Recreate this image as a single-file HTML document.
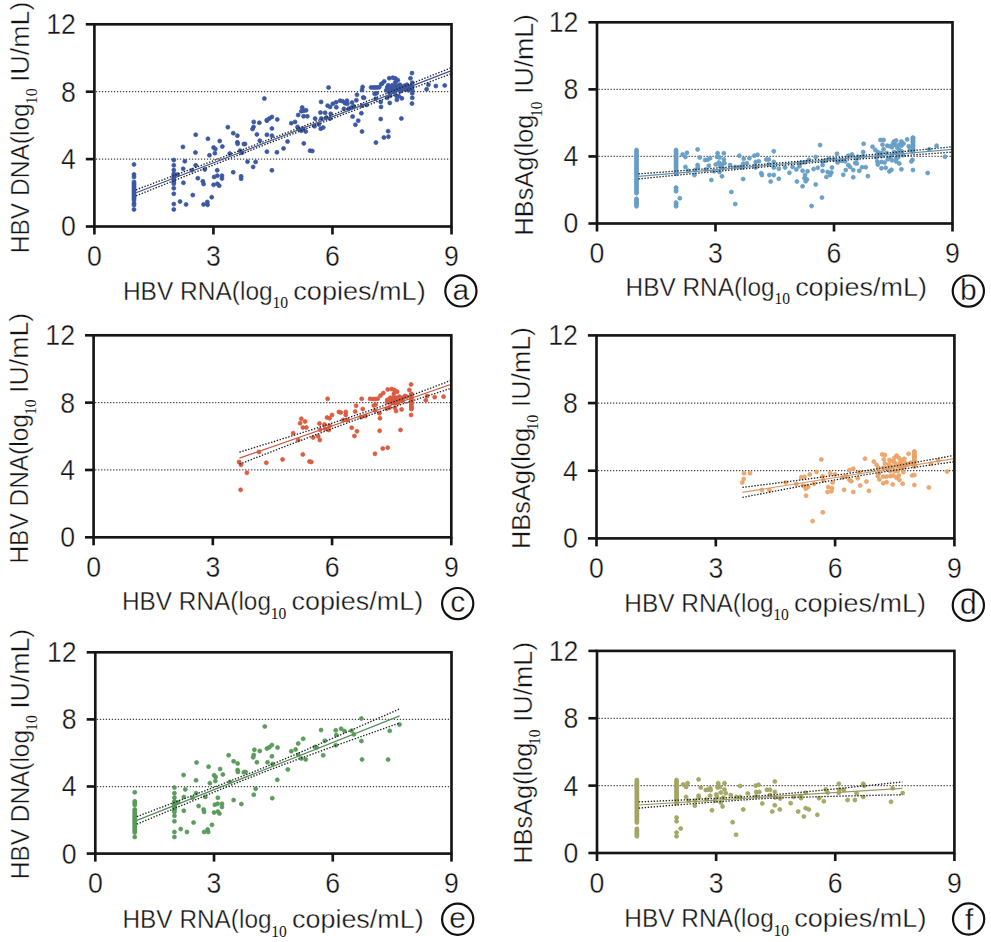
<!DOCTYPE html><html><head><meta charset="utf-8"><style>html,body{margin:0;padding:0;background:#fff;width:991px;height:942px;overflow:hidden}svg{display:block}text{font-family:"Liberation Sans",sans-serif;stroke:#fff;stroke-width:0.35px}</style></head><body>
<svg width="991" height="942" viewBox="0 0 991 942">
<rect width="991" height="942" fill="#fff"/>
<line x1="95.9" y1="159.1" x2="450.2" y2="159.1" stroke="#454545" stroke-width="1.25" stroke-dasharray="1.3 1.7"/>
<line x1="95.9" y1="91.7" x2="450.2" y2="91.7" stroke="#454545" stroke-width="1.25" stroke-dasharray="1.3 1.7"/>
<g fill="#3c5aa4" stroke="#39559d" stroke-width="0.7">
<circle cx="134.01" cy="164.42" r="2.0"/>
<circle cx="134.01" cy="174.43" r="2.0"/>
<circle cx="134.01" cy="176.93" r="2.0"/>
<circle cx="134.01" cy="203.21" r="2.0"/>
<circle cx="134.01" cy="205.09" r="2.0"/>
<circle cx="134.01" cy="209.47" r="2.0"/>
<circle cx="173.8" cy="160.04" r="2.0"/>
<circle cx="173.8" cy="165.3" r="2.0"/>
<circle cx="173.8" cy="170.05" r="2.0"/>
<circle cx="173.8" cy="188.19" r="2.0"/>
<circle cx="173.8" cy="193.82" r="2.0"/>
<circle cx="173.8" cy="204.08" r="2.0"/>
<circle cx="173.8" cy="209.47" r="2.0"/>
<circle cx="182.94" cy="146.9" r="2.0"/>
<circle cx="195.7" cy="134.76" r="2.0"/>
<circle cx="195.45" cy="152.53" r="2.0"/>
<circle cx="184.82" cy="161.29" r="2.0"/>
<circle cx="183.19" cy="168.8" r="2.0"/>
<circle cx="195.7" cy="165.3" r="2.0"/>
<circle cx="191.95" cy="170.3" r="2.0"/>
<circle cx="177.56" cy="174.43" r="2.0"/>
<circle cx="204.84" cy="169.42" r="2.0"/>
<circle cx="197.83" cy="178.18" r="2.0"/>
<circle cx="183.44" cy="182.81" r="2.0"/>
<circle cx="202.83" cy="181.31" r="2.0"/>
<circle cx="203.58" cy="184.06" r="2.0"/>
<circle cx="192.82" cy="195.08" r="2.0"/>
<circle cx="180.06" cy="201.58" r="2.0"/>
<circle cx="186.07" cy="204.46" r="2.0"/>
<circle cx="203.58" cy="204.46" r="2.0"/>
<circle cx="207.34" cy="201.96" r="2.0"/>
<circle cx="207.59" cy="204.84" r="2.0"/>
<circle cx="211.72" cy="197.2" r="2.0"/>
<circle cx="207.96" cy="138.77" r="2.0"/>
<circle cx="219.73" cy="141.02" r="2.0"/>
<circle cx="213.59" cy="147.53" r="2.0"/>
<circle cx="215.35" cy="149.03" r="2.0"/>
<circle cx="222.35" cy="146.53" r="2.0"/>
<circle cx="214.85" cy="153.16" r="2.0"/>
<circle cx="209.47" cy="155.29" r="2.0"/>
<circle cx="227.86" cy="127.13" r="2.0"/>
<circle cx="233.24" cy="133.14" r="2.0"/>
<circle cx="237.37" cy="135.64" r="2.0"/>
<circle cx="237.37" cy="142.27" r="2.0"/>
<circle cx="237.62" cy="143.77" r="2.0"/>
<circle cx="243.87" cy="144.02" r="2.0"/>
<circle cx="240.12" cy="150.66" r="2.0"/>
<circle cx="242" cy="152.78" r="2.0"/>
<circle cx="229.74" cy="153.53" r="2.0"/>
<circle cx="217.22" cy="170.3" r="2.0"/>
<circle cx="233.24" cy="172.18" r="2.0"/>
<circle cx="214.09" cy="176.93" r="2.0"/>
<circle cx="217.35" cy="175.68" r="2.0"/>
<circle cx="221.98" cy="175.68" r="2.0"/>
<circle cx="221.98" cy="178.56" r="2.0"/>
<circle cx="213.59" cy="184.82" r="2.0"/>
<circle cx="217.35" cy="183.81" r="2.0"/>
<circle cx="219.23" cy="185.69" r="2.0"/>
<circle cx="241.12" cy="176.31" r="2.0"/>
<circle cx="241.12" cy="178.81" r="2.0"/>
<circle cx="134.01" cy="181.94" r="2.0"/>
<circle cx="134.01" cy="183.45" r="2.0"/>
<circle cx="134.01" cy="184.96" r="2.0"/>
<circle cx="134.01" cy="186.47" r="2.0"/>
<circle cx="134.01" cy="187.99" r="2.0"/>
<circle cx="134.01" cy="189.5" r="2.0"/>
<circle cx="134.01" cy="191.01" r="2.0"/>
<circle cx="134.01" cy="192.52" r="2.0"/>
<circle cx="134.01" cy="194.03" r="2.0"/>
<circle cx="134.01" cy="195.54" r="2.0"/>
<circle cx="134.01" cy="197.06" r="2.0"/>
<circle cx="134.01" cy="198.57" r="2.0"/>
<circle cx="134.01" cy="200.08" r="2.0"/>
<circle cx="173.8" cy="173.8" r="2.0"/>
<circle cx="173.8" cy="175.47" r="2.0"/>
<circle cx="173.8" cy="177.14" r="2.0"/>
<circle cx="173.8" cy="178.81" r="2.0"/>
<circle cx="173.8" cy="180.48" r="2.0"/>
<circle cx="173.8" cy="182.15" r="2.0"/>
<circle cx="173.8" cy="183.81" r="2.0"/>
<circle cx="253.76" cy="121.88" r="2.0"/>
<circle cx="259.39" cy="122.75" r="2.0"/>
<circle cx="253.51" cy="126.88" r="2.0"/>
<circle cx="252.51" cy="129.01" r="2.0"/>
<circle cx="256.89" cy="134.39" r="2.0"/>
<circle cx="266.9" cy="134.76" r="2.0"/>
<circle cx="271.91" cy="128.51" r="2.0"/>
<circle cx="271.91" cy="135.64" r="2.0"/>
<circle cx="266.9" cy="120.63" r="2.0"/>
<circle cx="259.77" cy="140.65" r="2.0"/>
<circle cx="245.01" cy="144.02" r="2.0"/>
<circle cx="266.9" cy="151.66" r="2.0"/>
<circle cx="276.91" cy="152.28" r="2.0"/>
<circle cx="283.54" cy="148.4" r="2.0"/>
<circle cx="287.55" cy="141.52" r="2.0"/>
<circle cx="291.3" cy="123.13" r="2.0"/>
<circle cx="295.06" cy="121.88" r="2.0"/>
<circle cx="297.56" cy="126.88" r="2.0"/>
<circle cx="299.43" cy="129.38" r="2.0"/>
<circle cx="301.31" cy="130.64" r="2.0"/>
<circle cx="303.19" cy="128.76" r="2.0"/>
<circle cx="305.69" cy="131.51" r="2.0"/>
<circle cx="303.81" cy="143.4" r="2.0"/>
<circle cx="310.07" cy="150.66" r="2.0"/>
<circle cx="312.32" cy="151.03" r="2.0"/>
<circle cx="314.45" cy="126.26" r="2.0"/>
<circle cx="318.83" cy="124.38" r="2.0"/>
<circle cx="320.71" cy="128.76" r="2.0"/>
<circle cx="323.21" cy="127.51" r="2.0"/>
<circle cx="355.37" cy="124.75" r="2.0"/>
<circle cx="358.24" cy="120.63" r="2.0"/>
<circle cx="362" cy="131.51" r="2.0"/>
<circle cx="247.51" cy="161.67" r="2.0"/>
<circle cx="255.64" cy="161.92" r="2.0"/>
<circle cx="253.14" cy="166.92" r="2.0"/>
<circle cx="271.91" cy="170.3" r="2.0"/>
<circle cx="264.4" cy="98.54" r="2.0"/>
<circle cx="328.59" cy="87.53" r="2.0"/>
<circle cx="266.9" cy="120.06" r="2.0"/>
<circle cx="269.4" cy="118.56" r="2.0"/>
<circle cx="271.91" cy="116.93" r="2.0"/>
<circle cx="277.29" cy="119.43" r="2.0"/>
<circle cx="298.18" cy="115.06" r="2.0"/>
<circle cx="302.19" cy="107.55" r="2.0"/>
<circle cx="301.31" cy="111.3" r="2.0"/>
<circle cx="303.81" cy="110.68" r="2.0"/>
<circle cx="306.07" cy="110.3" r="2.0"/>
<circle cx="303.56" cy="116.31" r="2.0"/>
<circle cx="307.32" cy="116.31" r="2.0"/>
<circle cx="315.08" cy="118.56" r="2.0"/>
<circle cx="321.08" cy="101.92" r="2.0"/>
<circle cx="320.46" cy="112.55" r="2.0"/>
<circle cx="325.09" cy="112.8" r="2.0"/>
<circle cx="321.33" cy="118.56" r="2.0"/>
<circle cx="326.34" cy="117.56" r="2.0"/>
<circle cx="330.09" cy="118.56" r="2.0"/>
<circle cx="330.72" cy="113.8" r="2.0"/>
<circle cx="327.59" cy="105.67" r="2.0"/>
<circle cx="330.09" cy="106.92" r="2.0"/>
<circle cx="332.84" cy="103.79" r="2.0"/>
<circle cx="336.1" cy="102.29" r="2.0"/>
<circle cx="336.35" cy="107.3" r="2.0"/>
<circle cx="340.1" cy="100.67" r="2.0"/>
<circle cx="342.6" cy="101.29" r="2.0"/>
<circle cx="345.11" cy="103.17" r="2.0"/>
<circle cx="346.98" cy="100.67" r="2.0"/>
<circle cx="347.36" cy="103.79" r="2.0"/>
<circle cx="351.99" cy="102.54" r="2.0"/>
<circle cx="343.85" cy="108.8" r="2.0"/>
<circle cx="348.61" cy="108.8" r="2.0"/>
<circle cx="351.36" cy="107.55" r="2.0"/>
<circle cx="353.86" cy="106.3" r="2.0"/>
<circle cx="356.37" cy="100.29" r="2.0"/>
<circle cx="356.99" cy="94.79" r="2.0"/>
<circle cx="352.61" cy="116.56" r="2.0"/>
<circle cx="362" cy="90.03" r="2.0"/>
<circle cx="362.62" cy="86.9" r="2.0"/>
<circle cx="363.25" cy="97.54" r="2.0"/>
<circle cx="362" cy="105.67" r="2.0"/>
<circle cx="361.37" cy="113.18" r="2.0"/>
<circle cx="364.04" cy="97.84" r="2.0"/>
<circle cx="366.56" cy="104.9" r="2.0"/>
<circle cx="371.1" cy="87.45" r="2.0"/>
<circle cx="373.12" cy="87.45" r="2.0"/>
<circle cx="375.14" cy="87.45" r="2.0"/>
<circle cx="377.15" cy="87.45" r="2.0"/>
<circle cx="379.17" cy="87.25" r="2.0"/>
<circle cx="381.19" cy="84.22" r="2.0"/>
<circle cx="384.22" cy="81.39" r="2.0"/>
<circle cx="382.2" cy="83.41" r="2.0"/>
<circle cx="374.63" cy="93.8" r="2.0"/>
<circle cx="376.65" cy="93.3" r="2.0"/>
<circle cx="375.64" cy="98.85" r="2.0"/>
<circle cx="380.69" cy="101.88" r="2.0"/>
<circle cx="380.99" cy="106.92" r="2.0"/>
<circle cx="380.69" cy="119.03" r="2.0"/>
<circle cx="389.77" cy="102.89" r="2.0"/>
<circle cx="387.25" cy="97.84" r="2.0"/>
<circle cx="389.26" cy="78.16" r="2.0"/>
<circle cx="392.8" cy="77.66" r="2.0"/>
<circle cx="395.32" cy="78.37" r="2.0"/>
<circle cx="397.84" cy="80.18" r="2.0"/>
<circle cx="395.32" cy="82.2" r="2.0"/>
<circle cx="387.25" cy="87.25" r="2.0"/>
<circle cx="389.26" cy="88.76" r="2.0"/>
<circle cx="391.28" cy="87.75" r="2.0"/>
<circle cx="393.3" cy="86.74" r="2.0"/>
<circle cx="395.32" cy="86.24" r="2.0"/>
<circle cx="397.34" cy="85.73" r="2.0"/>
<circle cx="399.86" cy="84.72" r="2.0"/>
<circle cx="401.37" cy="86.74" r="2.0"/>
<circle cx="399.35" cy="88.76" r="2.0"/>
<circle cx="396.33" cy="89.26" r="2.0"/>
<circle cx="393.3" cy="90.27" r="2.0"/>
<circle cx="390.27" cy="90.27" r="2.0"/>
<circle cx="389.26" cy="92.29" r="2.0"/>
<circle cx="396.33" cy="95.82" r="2.0"/>
<circle cx="398.85" cy="96.33" r="2.0"/>
<circle cx="401.88" cy="98.35" r="2.0"/>
<circle cx="396.83" cy="99.86" r="2.0"/>
<circle cx="390.27" cy="95.82" r="2.0"/>
<circle cx="404.4" cy="85.73" r="2.0"/>
<circle cx="406.92" cy="84.72" r="2.0"/>
<circle cx="408.44" cy="87.75" r="2.0"/>
<circle cx="410.45" cy="86.24" r="2.0"/>
<circle cx="411.97" cy="73.12" r="2.0"/>
<circle cx="410.45" cy="78.37" r="2.0"/>
<circle cx="412.27" cy="82.7" r="2.0"/>
<circle cx="412.27" cy="86.74" r="2.0"/>
<circle cx="412.27" cy="90.27" r="2.0"/>
<circle cx="412.27" cy="93.3" r="2.0"/>
<circle cx="412.27" cy="97.84" r="2.0"/>
<circle cx="411.97" cy="103.59" r="2.0"/>
<circle cx="401.37" cy="118.53" r="2.0"/>
<circle cx="428.42" cy="84.72" r="2.0"/>
<circle cx="426.6" cy="89.26" r="2.0"/>
<circle cx="435.88" cy="86.03" r="2.0"/>
<circle cx="444.76" cy="85.43" r="2.0"/>
<circle cx="388.25" cy="85.23" r="2.0"/>
<circle cx="392.29" cy="85.23" r="2.0"/>
<circle cx="398.35" cy="88.25" r="2.0"/>
<circle cx="402.38" cy="89.26" r="2.0"/>
<circle cx="405.41" cy="89.26" r="2.0"/>
<circle cx="408.44" cy="90.27" r="2.0"/>
<circle cx="400.36" cy="91.28" r="2.0"/>
<circle cx="394.31" cy="92.29" r="2.0"/>
<circle cx="386.24" cy="90.27" r="2.0"/>
<circle cx="388.13" cy="131.15" r="2.0"/>
<circle cx="388.45" cy="136.67" r="2.0"/>
<circle cx="383.89" cy="137.52" r="2.0"/>
<circle cx="375.92" cy="142.61" r="2.0"/>
</g>
<line x1="136.06" y1="192.8" x2="451.5" y2="70.64" stroke="#3c5697" stroke-width="1.2"/>
<polyline points="136.06,189.8 143.95,186.84 151.83,183.88 159.72,180.92 167.61,177.95 175.49,174.99 183.38,172.02 191.26,169.04 199.15,166.07 207.04,163.09 214.92,160.1 222.81,157.11 230.69,154.12 238.58,151.11 246.47,148.11 254.35,145.1 262.24,142.08 270.12,139.05 278.01,136.01 285.89,132.97 293.78,129.92 301.67,126.86 309.55,123.79 317.44,120.72 325.32,117.64 333.21,114.55 341.1,111.45 348.98,108.35 356.87,105.24 364.75,102.13 372.64,99.01 380.53,95.89 388.41,92.76 396.3,89.63 404.18,86.5 412.07,83.36 419.96,80.22 427.84,77.08 435.73,73.93 443.61,70.79 451.5,67.64" fill="none" stroke="#222" stroke-width="1.35" stroke-dasharray="1.4 1.6"/>
<polyline points="136.06,195.8 143.95,192.65 151.83,189.5 159.72,186.36 167.61,183.21 175.49,180.07 183.38,176.93 191.26,173.8 199.15,170.67 207.04,167.54 214.92,164.42 222.81,161.3 230.69,158.19 238.58,155.08 246.47,151.98 254.35,148.88 262.24,145.79 270.12,142.71 278.01,139.64 285.89,136.58 293.78,133.52 301.67,130.47 309.55,127.43 317.44,124.39 325.32,121.37 333.21,118.35 341.1,115.34 348.98,112.33 356.87,109.33 364.75,106.34 372.64,103.35 380.53,100.36 388.41,97.38 396.3,94.4 404.18,91.43 412.07,88.46 419.96,85.49 427.84,82.52 435.73,79.56 443.61,76.6 451.5,73.64" fill="none" stroke="#222" stroke-width="1.35" stroke-dasharray="1.4 1.6"/>
<rect x="94.4" y="24.3" width="357.1" height="202.2" fill="none" stroke="#151515" stroke-width="2.65"/>
<line x1="85.8" y1="226.5" x2="94.4" y2="226.5" stroke="#151515" stroke-width="2.65"/>
<line x1="85.8" y1="159.1" x2="94.4" y2="159.1" stroke="#151515" stroke-width="2.65"/>
<line x1="85.8" y1="91.7" x2="94.4" y2="91.7" stroke="#151515" stroke-width="2.65"/>
<line x1="85.8" y1="24.3" x2="94.4" y2="24.3" stroke="#151515" stroke-width="2.65"/>
<line x1="94.4" y1="226.5" x2="94.4" y2="234.5" stroke="#151515" stroke-width="2.65"/>
<line x1="213.43" y1="226.5" x2="213.43" y2="234.5" stroke="#151515" stroke-width="2.65"/>
<line x1="332.47" y1="226.5" x2="332.47" y2="234.5" stroke="#151515" stroke-width="2.65"/>
<line x1="451.5" y1="226.5" x2="451.5" y2="234.5" stroke="#151515" stroke-width="2.65"/>
<text x="60.97" y="236.4" font-size="29" fill="#141414" textLength="14.83" lengthAdjust="spacingAndGlyphs">0</text>
<text x="60.97" y="169" font-size="29" fill="#141414" textLength="14.83" lengthAdjust="spacingAndGlyphs">4</text>
<text x="60.97" y="101.6" font-size="29" fill="#141414" textLength="14.83" lengthAdjust="spacingAndGlyphs">8</text>
<text x="46.13" y="34.2" font-size="29" fill="#141414" textLength="29.67" lengthAdjust="spacingAndGlyphs">12</text>
<text x="86.98" y="266.2" font-size="29" fill="#141414" textLength="14.83" lengthAdjust="spacingAndGlyphs">0</text>
<text x="206.02" y="266.2" font-size="29" fill="#141414" textLength="14.83" lengthAdjust="spacingAndGlyphs">3</text>
<text x="325.05" y="266.2" font-size="29" fill="#141414" textLength="14.83" lengthAdjust="spacingAndGlyphs">6</text>
<text x="444.08" y="266.2" font-size="29" fill="#141414" textLength="14.83" lengthAdjust="spacingAndGlyphs">9</text>
<text x="122.9" y="299.9" font-size="25.8" fill="#141414" textLength="149.8" lengthAdjust="spacingAndGlyphs">HBV RNA(log</text>
<text x="272.5" y="308.3" font-size="17" fill="#141414" style="font-family:'Liberation Serif',serif;stroke:none" textLength="15.6" lengthAdjust="spacingAndGlyphs">10</text>
<text x="293.3" y="299.9" font-size="25.8" fill="#141414" textLength="132.4" lengthAdjust="spacingAndGlyphs">copies/mL)</text>
<circle cx="460.9" cy="290.9" r="15.6" fill="none" stroke="#111" stroke-width="2.2"/>
<text x="460.9" y="299.5" font-size="30" text-anchor="middle" fill="#111">a</text>
<g transform="translate(28.9,251.5) rotate(-90)">
<text x="-1.7" y="0" font-size="25.8" fill="#141414" textLength="149.9" lengthAdjust="spacingAndGlyphs">HBV DNA(log</text>
<text x="147.3" y="8.4" font-size="17" fill="#141414" style="font-family:'Liberation Serif',serif;stroke:none" textLength="15.8" lengthAdjust="spacingAndGlyphs">10</text>
<text x="169.5" y="0" font-size="25.8" fill="#141414" textLength="80.4" lengthAdjust="spacingAndGlyphs">IU/mL)</text>
</g>
<line x1="598.5" y1="156.43" x2="951.2" y2="156.43" stroke="#454545" stroke-width="1.25" stroke-dasharray="1.3 1.7"/>
<line x1="598.5" y1="89.37" x2="951.2" y2="89.37" stroke="#454545" stroke-width="1.25" stroke-dasharray="1.3 1.7"/>
<g fill="#6aa2c8" stroke="#6499c0" stroke-width="0.7">
<circle cx="679.82" cy="198.2" r="2.0"/>
<circle cx="682.57" cy="154.41" r="2.0"/>
<circle cx="686.95" cy="152.78" r="2.0"/>
<circle cx="685.45" cy="156.91" r="2.0"/>
<circle cx="697.59" cy="149.4" r="2.0"/>
<circle cx="699.84" cy="157.54" r="2.0"/>
<circle cx="705.1" cy="160.04" r="2.0"/>
<circle cx="707.6" cy="159.79" r="2.0"/>
<circle cx="710.1" cy="158.16" r="2.0"/>
<circle cx="708.85" cy="165.67" r="2.0"/>
<circle cx="697.59" cy="165.05" r="2.0"/>
<circle cx="697.84" cy="167.55" r="2.0"/>
<circle cx="685.45" cy="166.92" r="2.0"/>
<circle cx="688.2" cy="170.68" r="2.0"/>
<circle cx="695.09" cy="170.05" r="2.0"/>
<circle cx="694.46" cy="175.06" r="2.0"/>
<circle cx="705.72" cy="169.42" r="2.0"/>
<circle cx="711.35" cy="180.06" r="2.0"/>
<circle cx="713.85" cy="171.3" r="2.0"/>
<circle cx="715.73" cy="164.42" r="2.0"/>
<circle cx="717.61" cy="153.16" r="2.0"/>
<circle cx="716.98" cy="156.91" r="2.0"/>
<circle cx="719.49" cy="157.54" r="2.0"/>
<circle cx="718.86" cy="162.54" r="2.0"/>
<circle cx="722.61" cy="163.79" r="2.0"/>
<circle cx="723.86" cy="153.16" r="2.0"/>
<circle cx="723.86" cy="159.41" r="2.0"/>
<circle cx="724.49" cy="163.17" r="2.0"/>
<circle cx="720.11" cy="166.3" r="2.0"/>
<circle cx="722.61" cy="168.17" r="2.0"/>
<circle cx="719.49" cy="171.93" r="2.0"/>
<circle cx="721.99" cy="176.31" r="2.0"/>
<circle cx="730.12" cy="165.05" r="2.0"/>
<circle cx="731.37" cy="191.95" r="2.0"/>
<circle cx="636.53" cy="150.03" r="2.0"/>
<circle cx="636.53" cy="151.57" r="2.0"/>
<circle cx="636.53" cy="153.11" r="2.0"/>
<circle cx="636.53" cy="154.66" r="2.0"/>
<circle cx="636.53" cy="156.2" r="2.0"/>
<circle cx="636.53" cy="157.74" r="2.0"/>
<circle cx="636.53" cy="159.28" r="2.0"/>
<circle cx="636.53" cy="160.82" r="2.0"/>
<circle cx="636.53" cy="162.36" r="2.0"/>
<circle cx="636.53" cy="163.91" r="2.0"/>
<circle cx="636.53" cy="165.45" r="2.0"/>
<circle cx="636.53" cy="166.99" r="2.0"/>
<circle cx="636.53" cy="168.53" r="2.0"/>
<circle cx="636.53" cy="170.07" r="2.0"/>
<circle cx="636.53" cy="171.61" r="2.0"/>
<circle cx="636.53" cy="173.16" r="2.0"/>
<circle cx="636.53" cy="174.7" r="2.0"/>
<circle cx="636.53" cy="176.24" r="2.0"/>
<circle cx="636.53" cy="177.78" r="2.0"/>
<circle cx="636.53" cy="179.32" r="2.0"/>
<circle cx="636.53" cy="180.86" r="2.0"/>
<circle cx="636.53" cy="182.41" r="2.0"/>
<circle cx="636.53" cy="183.95" r="2.0"/>
<circle cx="636.53" cy="185.49" r="2.0"/>
<circle cx="636.53" cy="187.03" r="2.0"/>
<circle cx="636.53" cy="188.57" r="2.0"/>
<circle cx="636.53" cy="190.12" r="2.0"/>
<circle cx="636.53" cy="191.66" r="2.0"/>
<circle cx="636.53" cy="193.2" r="2.0"/>
<circle cx="636.53" cy="198.83" r="2.0"/>
<circle cx="636.53" cy="200.33" r="2.0"/>
<circle cx="636.53" cy="201.83" r="2.0"/>
<circle cx="636.53" cy="203.33" r="2.0"/>
<circle cx="636.53" cy="204.84" r="2.0"/>
<circle cx="636.53" cy="206.34" r="2.0"/>
<circle cx="676.07" cy="150.03" r="2.0"/>
<circle cx="676.07" cy="151.62" r="2.0"/>
<circle cx="676.07" cy="153.2" r="2.0"/>
<circle cx="676.07" cy="154.79" r="2.0"/>
<circle cx="676.07" cy="156.37" r="2.0"/>
<circle cx="676.07" cy="157.95" r="2.0"/>
<circle cx="676.07" cy="159.54" r="2.0"/>
<circle cx="676.07" cy="161.12" r="2.0"/>
<circle cx="676.07" cy="162.71" r="2.0"/>
<circle cx="676.07" cy="164.29" r="2.0"/>
<circle cx="676.07" cy="165.88" r="2.0"/>
<circle cx="676.07" cy="167.46" r="2.0"/>
<circle cx="676.07" cy="169.05" r="2.0"/>
<circle cx="676.07" cy="170.63" r="2.0"/>
<circle cx="676.07" cy="172.22" r="2.0"/>
<circle cx="676.07" cy="173.8" r="2.0"/>
<circle cx="676.07" cy="187.57" r="2.0"/>
<circle cx="676.07" cy="189.45" r="2.0"/>
<circle cx="676.07" cy="191.32" r="2.0"/>
<circle cx="676.07" cy="202.58" r="2.0"/>
<circle cx="676.07" cy="204.46" r="2.0"/>
<circle cx="676.07" cy="206.34" r="2.0"/>
<circle cx="735.26" cy="204.08" r="2.0"/>
<circle cx="739.38" cy="155.66" r="2.0"/>
<circle cx="743.76" cy="158.79" r="2.0"/>
<circle cx="735.26" cy="166.92" r="2.0"/>
<circle cx="740.01" cy="166.92" r="2.0"/>
<circle cx="742.51" cy="167.55" r="2.0"/>
<circle cx="743.14" cy="163.79" r="2.0"/>
<circle cx="746.89" cy="163.17" r="2.0"/>
<circle cx="749.39" cy="158.16" r="2.0"/>
<circle cx="754.4" cy="155.66" r="2.0"/>
<circle cx="757.53" cy="154.79" r="2.0"/>
<circle cx="755.65" cy="161.92" r="2.0"/>
<circle cx="758.78" cy="161.29" r="2.0"/>
<circle cx="755.03" cy="165.67" r="2.0"/>
<circle cx="755.65" cy="167.55" r="2.0"/>
<circle cx="743.14" cy="179.06" r="2.0"/>
<circle cx="761.28" cy="173.18" r="2.0"/>
<circle cx="761.91" cy="175.06" r="2.0"/>
<circle cx="766.29" cy="159.41" r="2.0"/>
<circle cx="768.79" cy="159.41" r="2.0"/>
<circle cx="768.79" cy="164.42" r="2.0"/>
<circle cx="773.79" cy="151.28" r="2.0"/>
<circle cx="773.79" cy="161.92" r="2.0"/>
<circle cx="773.79" cy="167.55" r="2.0"/>
<circle cx="778.8" cy="168.8" r="2.0"/>
<circle cx="769.41" cy="175.06" r="2.0"/>
<circle cx="773.79" cy="175.06" r="2.0"/>
<circle cx="778.8" cy="178.81" r="2.0"/>
<circle cx="770.67" cy="181.56" r="2.0"/>
<circle cx="785.06" cy="167.55" r="2.0"/>
<circle cx="789.43" cy="172.8" r="2.0"/>
<circle cx="792.56" cy="166.92" r="2.0"/>
<circle cx="796.32" cy="169.42" r="2.0"/>
<circle cx="799.45" cy="166.3" r="2.0"/>
<circle cx="801.32" cy="162.54" r="2.0"/>
<circle cx="805.08" cy="162.29" r="2.0"/>
<circle cx="800.07" cy="163.17" r="2.0"/>
<circle cx="808.83" cy="159.79" r="2.0"/>
<circle cx="802.57" cy="170.68" r="2.0"/>
<circle cx="807.58" cy="171.3" r="2.0"/>
<circle cx="805.08" cy="175.06" r="2.0"/>
<circle cx="804.45" cy="178.18" r="2.0"/>
<circle cx="806.95" cy="179.43" r="2.0"/>
<circle cx="805.7" cy="181.31" r="2.0"/>
<circle cx="796.94" cy="181.56" r="2.0"/>
<circle cx="802.57" cy="186.32" r="2.0"/>
<circle cx="813.58" cy="169.05" r="2.0"/>
<circle cx="817.84" cy="167.8" r="2.0"/>
<circle cx="815.71" cy="156.91" r="2.0"/>
<circle cx="820.09" cy="145.03" r="2.0"/>
<circle cx="822.59" cy="161.29" r="2.0"/>
<circle cx="825.1" cy="160.67" r="2.0"/>
<circle cx="822.59" cy="165.05" r="2.0"/>
<circle cx="822.59" cy="171.05" r="2.0"/>
<circle cx="831.98" cy="167.55" r="2.0"/>
<circle cx="827.6" cy="171.93" r="2.0"/>
<circle cx="831.35" cy="172.55" r="2.0"/>
<circle cx="830.1" cy="175.06" r="2.0"/>
<circle cx="826.35" cy="176.93" r="2.0"/>
<circle cx="815.71" cy="184.44" r="2.0"/>
<circle cx="821.97" cy="197.58" r="2.0"/>
<circle cx="811.58" cy="206.09" r="2.0"/>
<circle cx="828.85" cy="158.79" r="2.0"/>
<circle cx="833.85" cy="159.41" r="2.0"/>
<circle cx="836.98" cy="153.78" r="2.0"/>
<circle cx="837.61" cy="162.54" r="2.0"/>
<circle cx="840.11" cy="160.67" r="2.0"/>
<circle cx="842.61" cy="160.67" r="2.0"/>
<circle cx="845.12" cy="161.29" r="2.0"/>
<circle cx="848.24" cy="155.66" r="2.0"/>
<circle cx="852" cy="154.41" r="2.0"/>
<circle cx="848.24" cy="165.05" r="2.0"/>
<circle cx="850.12" cy="166.92" r="2.0"/>
<circle cx="845.74" cy="170.05" r="2.0"/>
<circle cx="843.24" cy="174.81" r="2.0"/>
<circle cx="853.25" cy="170.05" r="2.0"/>
<circle cx="853.25" cy="177.31" r="2.0"/>
<circle cx="863.64" cy="143.79" r="2.0"/>
<circle cx="863.12" cy="151.98" r="2.0"/>
<circle cx="863.12" cy="156.18" r="2.0"/>
<circle cx="857.87" cy="156.7" r="2.0"/>
<circle cx="856.82" cy="158.8" r="2.0"/>
<circle cx="855.25" cy="163" r="2.0"/>
<circle cx="856.82" cy="163.52" r="2.0"/>
<circle cx="862.07" cy="167.19" r="2.0"/>
<circle cx="865.74" cy="167.19" r="2.0"/>
<circle cx="859.24" cy="170.87" r="2.0"/>
<circle cx="867.84" cy="176.12" r="2.0"/>
<circle cx="872.56" cy="146.73" r="2.0"/>
<circle cx="875.19" cy="149.88" r="2.0"/>
<circle cx="877.81" cy="151.98" r="2.0"/>
<circle cx="880.43" cy="139.91" r="2.0"/>
<circle cx="883.58" cy="139.91" r="2.0"/>
<circle cx="882.53" cy="144.63" r="2.0"/>
<circle cx="883.58" cy="149.35" r="2.0"/>
<circle cx="881.48" cy="153.03" r="2.0"/>
<circle cx="876.24" cy="157.23" r="2.0"/>
<circle cx="877.29" cy="161.42" r="2.0"/>
<circle cx="877.81" cy="164.57" r="2.0"/>
<circle cx="881.48" cy="161.95" r="2.0"/>
<circle cx="884.63" cy="162.47" r="2.0"/>
<circle cx="881.48" cy="168.24" r="2.0"/>
<circle cx="885.68" cy="167.72" r="2.0"/>
<circle cx="889.35" cy="171.39" r="2.0"/>
<circle cx="891.45" cy="169.82" r="2.0"/>
<circle cx="887.26" cy="145.68" r="2.0"/>
<circle cx="889.88" cy="146.21" r="2.0"/>
<circle cx="891.98" cy="147.26" r="2.0"/>
<circle cx="894.08" cy="141.48" r="2.0"/>
<circle cx="896.18" cy="140.43" r="2.0"/>
<circle cx="895.13" cy="144.63" r="2.0"/>
<circle cx="899.32" cy="144.63" r="2.0"/>
<circle cx="901.42" cy="145.68" r="2.0"/>
<circle cx="903.52" cy="143.58" r="2.0"/>
<circle cx="894.08" cy="151.98" r="2.0"/>
<circle cx="896.18" cy="153.03" r="2.0"/>
<circle cx="899.32" cy="149.88" r="2.0"/>
<circle cx="901.95" cy="151.45" r="2.0"/>
<circle cx="898.27" cy="155.13" r="2.0"/>
<circle cx="896.18" cy="158.27" r="2.0"/>
<circle cx="891.98" cy="160.37" r="2.0"/>
<circle cx="889.88" cy="157.75" r="2.0"/>
<circle cx="896.18" cy="161.42" r="2.0"/>
<circle cx="899.32" cy="163.52" r="2.0"/>
<circle cx="901.42" cy="169.29" r="2.0"/>
<circle cx="907.19" cy="139.38" r="2.0"/>
<circle cx="912.97" cy="137.81" r="2.0"/>
<circle cx="912.97" cy="141.48" r="2.0"/>
<circle cx="912.97" cy="145.68" r="2.0"/>
<circle cx="912.97" cy="149.88" r="2.0"/>
<circle cx="908.77" cy="146.21" r="2.0"/>
<circle cx="909.82" cy="149.88" r="2.0"/>
<circle cx="912.44" cy="159.85" r="2.0"/>
<circle cx="911.39" cy="161.42" r="2.0"/>
<circle cx="912.97" cy="170.03" r="2.0"/>
<circle cx="929.23" cy="149.35" r="2.0"/>
<circle cx="936.58" cy="145.68" r="2.0"/>
<circle cx="927.66" cy="172.97" r="2.0"/>
<circle cx="944.97" cy="156.7" r="2.0"/>
<circle cx="903" cy="155.13" r="2.0"/>
<circle cx="887.78" cy="159.32" r="2.0"/>
<circle cx="878.34" cy="154.08" r="2.0"/>
<circle cx="886.73" cy="153.03" r="2.0"/>
<circle cx="893.03" cy="143.58" r="2.0"/>
<circle cx="901.42" cy="141.48" r="2.0"/>
<circle cx="897.23" cy="147.78" r="2.0"/>
<circle cx="891.98" cy="155.13" r="2.0"/>
<circle cx="898.27" cy="157.23" r="2.0"/>
<circle cx="881.48" cy="156.18" r="2.0"/>
<circle cx="912.97" cy="137.81" r="2.0"/>
<circle cx="912.97" cy="139.38" r="2.0"/>
<circle cx="912.97" cy="140.96" r="2.0"/>
<circle cx="912.97" cy="142.53" r="2.0"/>
<circle cx="912.97" cy="144.11" r="2.0"/>
<circle cx="912.97" cy="145.68" r="2.0"/>
<circle cx="912.97" cy="147.26" r="2.0"/>
<circle cx="912.97" cy="148.83" r="2.0"/>
<circle cx="912.97" cy="150.4" r="2.0"/>
<circle cx="912.97" cy="151.98" r="2.0"/>
</g>
<line x1="638.48" y1="176.39" x2="952.5" y2="149.39" stroke="#6393b6" stroke-width="1.2"/>
<polyline points="638.48,173.89 646.33,173.3 654.18,172.72 662.03,172.13 669.88,171.54 677.73,170.95 685.58,170.36 693.43,169.76 701.28,169.17 709.13,168.56 716.98,167.96 724.83,167.35 732.68,166.74 740.53,166.12 748.38,165.49 756.23,164.86 764.09,164.22 771.94,163.58 779.79,162.92 787.64,162.26 795.49,161.59 803.34,160.91 811.19,160.21 819.04,159.51 826.89,158.8 834.74,158.08 842.59,157.35 850.44,156.62 858.29,155.88 866.14,155.13 873.99,154.38 881.84,153.62 889.69,152.86 897.55,152.1 905.4,151.33 913.25,150.56 921.1,149.79 928.95,149.02 936.8,148.24 944.65,147.47 952.5,146.69" fill="none" stroke="#222" stroke-width="1.35" stroke-dasharray="1.4 1.6"/>
<polyline points="638.48,178.89 646.33,178.12 654.18,177.36 662.03,176.59 669.88,175.83 677.73,175.07 685.58,174.31 693.43,173.56 701.28,172.81 709.13,172.06 716.98,171.32 724.83,170.57 732.68,169.84 740.53,169.11 748.38,168.38 756.23,167.66 764.09,166.95 771.94,166.25 779.79,165.55 787.64,164.87 795.49,164.19 803.34,163.52 811.19,162.86 819.04,162.21 826.89,161.58 834.74,160.95 842.59,160.33 850.44,159.71 858.29,159.1 866.14,158.5 873.99,157.9 881.84,157.31 889.69,156.72 897.55,156.13 905.4,155.55 913.25,154.97 921.1,154.39 928.95,153.81 936.8,153.24 944.65,152.66 952.5,152.09" fill="none" stroke="#222" stroke-width="1.35" stroke-dasharray="1.4 1.6"/>
<rect x="597" y="22.3" width="355.5" height="201.2" fill="none" stroke="#151515" stroke-width="2.65"/>
<line x1="588.4" y1="223.5" x2="597" y2="223.5" stroke="#151515" stroke-width="2.65"/>
<line x1="588.4" y1="156.43" x2="597" y2="156.43" stroke="#151515" stroke-width="2.65"/>
<line x1="588.4" y1="89.37" x2="597" y2="89.37" stroke="#151515" stroke-width="2.65"/>
<line x1="588.4" y1="22.3" x2="597" y2="22.3" stroke="#151515" stroke-width="2.65"/>
<line x1="597" y1="223.5" x2="597" y2="231.5" stroke="#151515" stroke-width="2.65"/>
<line x1="715.5" y1="223.5" x2="715.5" y2="231.5" stroke="#151515" stroke-width="2.65"/>
<line x1="834" y1="223.5" x2="834" y2="231.5" stroke="#151515" stroke-width="2.65"/>
<line x1="952.5" y1="223.5" x2="952.5" y2="231.5" stroke="#151515" stroke-width="2.65"/>
<text x="563.57" y="233.4" font-size="29" fill="#141414" textLength="14.83" lengthAdjust="spacingAndGlyphs">0</text>
<text x="563.57" y="166.33" font-size="29" fill="#141414" textLength="14.83" lengthAdjust="spacingAndGlyphs">4</text>
<text x="563.57" y="99.27" font-size="29" fill="#141414" textLength="14.83" lengthAdjust="spacingAndGlyphs">8</text>
<text x="548.73" y="32.2" font-size="29" fill="#141414" textLength="29.67" lengthAdjust="spacingAndGlyphs">12</text>
<text x="589.58" y="263.2" font-size="29" fill="#141414" textLength="14.83" lengthAdjust="spacingAndGlyphs">0</text>
<text x="708.08" y="263.2" font-size="29" fill="#141414" textLength="14.83" lengthAdjust="spacingAndGlyphs">3</text>
<text x="826.58" y="263.2" font-size="29" fill="#141414" textLength="14.83" lengthAdjust="spacingAndGlyphs">6</text>
<text x="945.08" y="263.2" font-size="29" fill="#141414" textLength="14.83" lengthAdjust="spacingAndGlyphs">9</text>
<text x="625.6" y="295.7" font-size="25.8" fill="#141414" textLength="149.06" lengthAdjust="spacingAndGlyphs">HBV RNA(log</text>
<text x="774.45" y="304.1" font-size="17" fill="#141414" style="font-family:'Liberation Serif',serif;stroke:none" textLength="15.53" lengthAdjust="spacingAndGlyphs">10</text>
<text x="795.15" y="295.7" font-size="25.8" fill="#141414" textLength="131.75" lengthAdjust="spacingAndGlyphs">copies/mL)</text>
<circle cx="968.35" cy="291.1" r="15.6" fill="none" stroke="#111" stroke-width="2.2"/>
<text x="968.35" y="299.7" font-size="30" text-anchor="middle" fill="#111">b</text>
<g transform="translate(533.1,233.7) rotate(-90)">
<text x="-1.7" y="0" font-size="25.8" fill="#141414" textLength="120.7" lengthAdjust="spacingAndGlyphs">HBsAg(log</text>
<text x="116.8" y="8.4" font-size="17" fill="#141414" style="font-family:'Liberation Serif',serif;stroke:none" textLength="15.4" lengthAdjust="spacingAndGlyphs">10</text>
<text x="139.7" y="0" font-size="25.8" fill="#141414" textLength="80" lengthAdjust="spacingAndGlyphs">IU/mL)</text>
</g>
<line x1="95.1" y1="469.97" x2="450" y2="469.97" stroke="#454545" stroke-width="1.25" stroke-dasharray="1.3 1.7"/>
<line x1="95.1" y1="402.63" x2="450" y2="402.63" stroke="#454545" stroke-width="1.25" stroke-dasharray="1.3 1.7"/>
<g fill="#e05c40" stroke="#d4573d" stroke-width="0.7">
<circle cx="239.01" cy="461.94" r="2.0"/>
<circle cx="241.02" cy="464.82" r="2.0"/>
<circle cx="246.9" cy="472.82" r="2.0"/>
<circle cx="240.64" cy="489.84" r="2.0"/>
<circle cx="259.03" cy="451.93" r="2.0"/>
<circle cx="266.29" cy="462.81" r="2.0"/>
<circle cx="282.56" cy="459.43" r="2.0"/>
<circle cx="293.19" cy="433.16" r="2.0"/>
<circle cx="298.2" cy="440.04" r="2.0"/>
<circle cx="302.83" cy="454.43" r="2.0"/>
<circle cx="309.46" cy="461.56" r="2.0"/>
<circle cx="311.34" cy="461.94" r="2.0"/>
<circle cx="301.33" cy="418.77" r="2.0"/>
<circle cx="300.08" cy="423.15" r="2.0"/>
<circle cx="305.08" cy="421.52" r="2.0"/>
<circle cx="302.83" cy="427.53" r="2.0"/>
<circle cx="306.33" cy="427.53" r="2.0"/>
<circle cx="313.21" cy="437.54" r="2.0"/>
<circle cx="318.22" cy="436.29" r="2.0"/>
<circle cx="319.85" cy="440.04" r="2.0"/>
<circle cx="319.47" cy="423.52" r="2.0"/>
<circle cx="324.48" cy="424.4" r="2.0"/>
<circle cx="320.1" cy="429.78" r="2.0"/>
<circle cx="325.1" cy="428.78" r="2.0"/>
<circle cx="328.85" cy="430.03" r="2.0"/>
<circle cx="329.48" cy="425.65" r="2.0"/>
<circle cx="326.98" cy="417.52" r="2.0"/>
<circle cx="329.48" cy="418.14" r="2.0"/>
<circle cx="331.98" cy="415.02" r="2.0"/>
<circle cx="338.86" cy="411.89" r="2.0"/>
<circle cx="340.74" cy="412.51" r="2.0"/>
<circle cx="345.75" cy="411.89" r="2.0"/>
<circle cx="345.75" cy="415.02" r="2.0"/>
<circle cx="343.24" cy="420.02" r="2.0"/>
<circle cx="347.62" cy="420.02" r="2.0"/>
<circle cx="351.66" cy="427.72" r="2.0"/>
<circle cx="354.43" cy="436.04" r="2.0"/>
<circle cx="356.99" cy="431.27" r="2.0"/>
<circle cx="355.21" cy="411.62" r="2.0"/>
<circle cx="356.1" cy="405.74" r="2.0"/>
<circle cx="361.65" cy="398.86" r="2.0"/>
<circle cx="362.76" cy="409.07" r="2.0"/>
<circle cx="361.09" cy="417.17" r="2.0"/>
<circle cx="365.53" cy="416.06" r="2.0"/>
<circle cx="369.97" cy="398.86" r="2.0"/>
<circle cx="372.75" cy="399.08" r="2.0"/>
<circle cx="374.97" cy="399.08" r="2.0"/>
<circle cx="377.74" cy="398.64" r="2.0"/>
<circle cx="380.52" cy="395.53" r="2.0"/>
<circle cx="383.29" cy="393.09" r="2.0"/>
<circle cx="373.86" cy="405.52" r="2.0"/>
<circle cx="375.52" cy="404.63" r="2.0"/>
<circle cx="374.97" cy="410.51" r="2.0"/>
<circle cx="379.41" cy="413.29" r="2.0"/>
<circle cx="379.96" cy="418.28" r="2.0"/>
<circle cx="379.63" cy="430.83" r="2.0"/>
<circle cx="374.97" cy="453.8" r="2.0"/>
<circle cx="382.74" cy="448.59" r="2.0"/>
<circle cx="387.73" cy="447.7" r="2.0"/>
<circle cx="387.73" cy="389.42" r="2.0"/>
<circle cx="391.62" cy="389.09" r="2.0"/>
<circle cx="394.39" cy="389.98" r="2.0"/>
<circle cx="397.17" cy="391.64" r="2.0"/>
<circle cx="393.84" cy="393.86" r="2.0"/>
<circle cx="387.18" cy="399.97" r="2.0"/>
<circle cx="389.4" cy="398.86" r="2.0"/>
<circle cx="391.62" cy="398.86" r="2.0"/>
<circle cx="393.84" cy="399.41" r="2.0"/>
<circle cx="396.06" cy="398.86" r="2.0"/>
<circle cx="399.39" cy="396.64" r="2.0"/>
<circle cx="402.72" cy="397.75" r="2.0"/>
<circle cx="404.94" cy="396.08" r="2.0"/>
<circle cx="406.6" cy="396.64" r="2.0"/>
<circle cx="389.4" cy="402.19" r="2.0"/>
<circle cx="392.73" cy="402.19" r="2.0"/>
<circle cx="396.06" cy="402.19" r="2.0"/>
<circle cx="398.28" cy="399.97" r="2.0"/>
<circle cx="386.62" cy="408.85" r="2.0"/>
<circle cx="389.4" cy="407.74" r="2.0"/>
<circle cx="394.95" cy="407.74" r="2.0"/>
<circle cx="396.06" cy="411.07" r="2.0"/>
<circle cx="401.61" cy="409.4" r="2.0"/>
<circle cx="400.5" cy="429.94" r="2.0"/>
<circle cx="411.04" cy="384.43" r="2.0"/>
<circle cx="409.38" cy="389.98" r="2.0"/>
<circle cx="411.04" cy="414.95" r="2.0"/>
<circle cx="411.38" cy="408.85" r="2.0"/>
<circle cx="427.14" cy="396.08" r="2.0"/>
<circle cx="425.81" cy="400.19" r="2.0"/>
<circle cx="434.69" cy="397.19" r="2.0"/>
<circle cx="443.57" cy="396.64" r="2.0"/>
<circle cx="390.51" cy="397.75" r="2.0"/>
<circle cx="393.84" cy="397.19" r="2.0"/>
<circle cx="397.17" cy="397.75" r="2.0"/>
<circle cx="400.5" cy="399.41" r="2.0"/>
<circle cx="387.18" cy="402.19" r="2.0"/>
<circle cx="391.62" cy="402.74" r="2.0"/>
<circle cx="394.95" cy="403.3" r="2.0"/>
<circle cx="398.28" cy="402.74" r="2.0"/>
<circle cx="402.72" cy="400.52" r="2.0"/>
<circle cx="411.38" cy="393.86" r="2.0"/>
<circle cx="411.38" cy="395.53" r="2.0"/>
<circle cx="411.38" cy="397.19" r="2.0"/>
<circle cx="411.38" cy="398.86" r="2.0"/>
<circle cx="411.38" cy="400.52" r="2.0"/>
<circle cx="411.38" cy="402.19" r="2.0"/>
<circle cx="411.38" cy="403.85" r="2.0"/>
<circle cx="411.38" cy="405.52" r="2.0"/>
<circle cx="411.38" cy="407.18" r="2.0"/>
<circle cx="411.38" cy="408.85" r="2.0"/>
<circle cx="327.6" cy="398.79" r="2.0"/>
</g>
<line x1="239.46" y1="458.18" x2="451.3" y2="384.28" stroke="#c85742" stroke-width="1.2"/>
<polyline points="239.46,452.18 244.76,450.55 250.05,448.92 255.35,447.29 260.65,445.65 265.94,444.01 271.24,442.37 276.53,440.73 281.83,439.09 287.13,437.44 292.42,435.78 297.72,434.12 303.01,432.46 308.31,430.79 313.61,429.11 318.9,427.42 324.2,425.72 329.49,424.01 334.79,422.29 340.09,420.55 345.38,418.79 350.68,417.01 355.97,415.21 361.27,413.39 366.56,411.54 371.86,409.68 377.16,407.8 382.45,405.9 387.75,403.99 393.04,402.06 398.34,400.12 403.64,398.17 408.93,396.21 414.23,394.24 419.52,392.27 424.82,390.28 430.12,388.29 435.41,386.3 440.71,384.3 446,382.29 451.3,380.28" fill="none" stroke="#222" stroke-width="1.35" stroke-dasharray="1.4 1.6"/>
<polyline points="239.46,464.18 244.76,462.12 250.05,460.06 255.35,457.99 260.65,455.93 265.94,453.88 271.24,451.82 276.53,449.77 281.83,447.72 287.13,445.68 292.42,443.64 297.72,441.6 303.01,439.57 308.31,437.54 313.61,435.53 318.9,433.52 324.2,431.52 329.49,429.54 334.79,427.57 340.09,425.61 345.38,423.68 350.68,421.76 355.97,419.87 361.27,417.99 366.56,416.15 371.86,414.32 377.16,412.5 382.45,410.7 387.75,408.92 393.04,407.15 398.34,405.4 403.64,403.65 408.93,401.92 414.23,400.19 419.52,398.47 424.82,396.76 430.12,395.06 435.41,393.36 440.71,391.66 446,389.97 451.3,388.28" fill="none" stroke="#222" stroke-width="1.35" stroke-dasharray="1.4 1.6"/>
<rect x="93.6" y="335.3" width="357.7" height="202" fill="none" stroke="#151515" stroke-width="2.65"/>
<line x1="85" y1="537.3" x2="93.6" y2="537.3" stroke="#151515" stroke-width="2.65"/>
<line x1="85" y1="469.97" x2="93.6" y2="469.97" stroke="#151515" stroke-width="2.65"/>
<line x1="85" y1="402.63" x2="93.6" y2="402.63" stroke="#151515" stroke-width="2.65"/>
<line x1="85" y1="335.3" x2="93.6" y2="335.3" stroke="#151515" stroke-width="2.65"/>
<line x1="93.6" y1="537.3" x2="93.6" y2="545.3" stroke="#151515" stroke-width="2.65"/>
<line x1="212.83" y1="537.3" x2="212.83" y2="545.3" stroke="#151515" stroke-width="2.65"/>
<line x1="332.07" y1="537.3" x2="332.07" y2="545.3" stroke="#151515" stroke-width="2.65"/>
<line x1="451.3" y1="537.3" x2="451.3" y2="545.3" stroke="#151515" stroke-width="2.65"/>
<text x="60.17" y="547.2" font-size="29" fill="#141414" textLength="14.83" lengthAdjust="spacingAndGlyphs">0</text>
<text x="60.17" y="479.87" font-size="29" fill="#141414" textLength="14.83" lengthAdjust="spacingAndGlyphs">4</text>
<text x="60.17" y="412.53" font-size="29" fill="#141414" textLength="14.83" lengthAdjust="spacingAndGlyphs">8</text>
<text x="45.33" y="345.2" font-size="29" fill="#141414" textLength="29.67" lengthAdjust="spacingAndGlyphs">12</text>
<text x="86.18" y="577" font-size="29" fill="#141414" textLength="14.83" lengthAdjust="spacingAndGlyphs">0</text>
<text x="205.42" y="577" font-size="29" fill="#141414" textLength="14.83" lengthAdjust="spacingAndGlyphs">3</text>
<text x="324.65" y="577" font-size="29" fill="#141414" textLength="14.83" lengthAdjust="spacingAndGlyphs">6</text>
<text x="443.88" y="577" font-size="29" fill="#141414" textLength="14.83" lengthAdjust="spacingAndGlyphs">9</text>
<text x="121.9" y="610.1" font-size="25.8" fill="#141414" textLength="149.06" lengthAdjust="spacingAndGlyphs">HBV RNA(log</text>
<text x="270.75" y="618.5" font-size="17" fill="#141414" style="font-family:'Liberation Serif',serif;stroke:none" textLength="15.53" lengthAdjust="spacingAndGlyphs">10</text>
<text x="291.45" y="610.1" font-size="25.8" fill="#141414" textLength="131.75" lengthAdjust="spacingAndGlyphs">copies/mL)</text>
<circle cx="457.7" cy="603.6" r="15.6" fill="none" stroke="#111" stroke-width="2.2"/>
<text x="457.7" y="612.2" font-size="30" text-anchor="middle" fill="#111">c</text>
<g transform="translate(27.7,561.9) rotate(-90)">
<text x="-1.7" y="0" font-size="25.8" fill="#141414" textLength="149.49" lengthAdjust="spacingAndGlyphs">HBV DNA(log</text>
<text x="146.88" y="8.4" font-size="17" fill="#141414" style="font-family:'Liberation Serif',serif;stroke:none" textLength="15.76" lengthAdjust="spacingAndGlyphs">10</text>
<text x="169.01" y="0" font-size="25.8" fill="#141414" textLength="80.19" lengthAdjust="spacingAndGlyphs">IU/mL)</text>
</g>
<line x1="598" y1="470.73" x2="953.1" y2="470.73" stroke="#454545" stroke-width="1.25" stroke-dasharray="1.3 1.7"/>
<line x1="598" y1="403.07" x2="953.1" y2="403.07" stroke="#454545" stroke-width="1.25" stroke-dasharray="1.3 1.7"/>
<g fill="#f2a86a" stroke="#e59f65" stroke-width="0.7">
<circle cx="744.01" cy="473.16" r="2.0"/>
<circle cx="750.02" cy="473.16" r="2.0"/>
<circle cx="743.76" cy="479.04" r="2.0"/>
<circle cx="742.26" cy="482.54" r="2.0"/>
<circle cx="761.91" cy="490.05" r="2.0"/>
<circle cx="769.41" cy="490.05" r="2.0"/>
<circle cx="785.68" cy="482.54" r="2.0"/>
<circle cx="796.32" cy="484.04" r="2.0"/>
<circle cx="801.32" cy="477.29" r="2.0"/>
<circle cx="804.45" cy="476.91" r="2.0"/>
<circle cx="809.83" cy="474.41" r="2.0"/>
<circle cx="803.2" cy="485.67" r="2.0"/>
<circle cx="806.33" cy="486.3" r="2.0"/>
<circle cx="808.2" cy="486.92" r="2.0"/>
<circle cx="805.7" cy="488.8" r="2.0"/>
<circle cx="806.08" cy="495.68" r="2.0"/>
<circle cx="814.08" cy="483.79" r="2.0"/>
<circle cx="816.59" cy="471.91" r="2.0"/>
<circle cx="821.34" cy="459.39" r="2.0"/>
<circle cx="822.59" cy="476.29" r="2.0"/>
<circle cx="823.22" cy="480.04" r="2.0"/>
<circle cx="830.1" cy="473.16" r="2.0"/>
<circle cx="835.11" cy="474.41" r="2.0"/>
<circle cx="832.6" cy="482.54" r="2.0"/>
<circle cx="828.22" cy="486.92" r="2.0"/>
<circle cx="831.98" cy="488.17" r="2.0"/>
<circle cx="827.6" cy="491.93" r="2.0"/>
<circle cx="831.35" cy="491.3" r="2.0"/>
<circle cx="844.12" cy="489.8" r="2.0"/>
<circle cx="842.61" cy="477.54" r="2.0"/>
<circle cx="846.37" cy="476.29" r="2.0"/>
<circle cx="849.5" cy="470.03" r="2.0"/>
<circle cx="853.25" cy="468.78" r="2.0"/>
<circle cx="849.5" cy="480.04" r="2.0"/>
<circle cx="851.37" cy="481.29" r="2.0"/>
<circle cx="853.25" cy="491.93" r="2.0"/>
<circle cx="822.84" cy="512.32" r="2.0"/>
<circle cx="812.58" cy="521.08" r="2.0"/>
<circle cx="859.43" cy="472.17" r="2.0"/>
<circle cx="857.77" cy="478.27" r="2.0"/>
<circle cx="860.21" cy="485.49" r="2.0"/>
<circle cx="866.43" cy="481.6" r="2.0"/>
<circle cx="868.87" cy="490.82" r="2.0"/>
<circle cx="864.98" cy="458.63" r="2.0"/>
<circle cx="873.86" cy="461.62" r="2.0"/>
<circle cx="876.64" cy="464.95" r="2.0"/>
<circle cx="878.3" cy="467.73" r="2.0"/>
<circle cx="878.86" cy="473.28" r="2.0"/>
<circle cx="877.75" cy="476.05" r="2.0"/>
<circle cx="879.41" cy="479.38" r="2.0"/>
<circle cx="882.19" cy="454.41" r="2.0"/>
<circle cx="884.96" cy="454.96" r="2.0"/>
<circle cx="883.85" cy="459.4" r="2.0"/>
<circle cx="884.96" cy="463.51" r="2.0"/>
<circle cx="883.3" cy="467.73" r="2.0"/>
<circle cx="883.3" cy="476.61" r="2.0"/>
<circle cx="886.63" cy="476.61" r="2.0"/>
<circle cx="890.51" cy="476.05" r="2.0"/>
<circle cx="893.29" cy="475.5" r="2.0"/>
<circle cx="883.3" cy="483.27" r="2.0"/>
<circle cx="886.63" cy="482.16" r="2.0"/>
<circle cx="892.73" cy="484.38" r="2.0"/>
<circle cx="889.4" cy="459.96" r="2.0"/>
<circle cx="892.18" cy="461.07" r="2.0"/>
<circle cx="894.4" cy="457.74" r="2.0"/>
<circle cx="896.62" cy="455.52" r="2.0"/>
<circle cx="898.84" cy="457.74" r="2.0"/>
<circle cx="902.17" cy="459.96" r="2.0"/>
<circle cx="904.39" cy="458.85" r="2.0"/>
<circle cx="896.62" cy="464.95" r="2.0"/>
<circle cx="898.84" cy="466.62" r="2.0"/>
<circle cx="902.17" cy="464.4" r="2.0"/>
<circle cx="904.39" cy="466.62" r="2.0"/>
<circle cx="897.73" cy="471.06" r="2.0"/>
<circle cx="898.84" cy="475.5" r="2.0"/>
<circle cx="896.62" cy="477.72" r="2.0"/>
<circle cx="899.39" cy="479.94" r="2.0"/>
<circle cx="902.72" cy="483.82" r="2.0"/>
<circle cx="908.61" cy="453.85" r="2.0"/>
<circle cx="914.38" cy="451.63" r="2.0"/>
<circle cx="914.38" cy="456.63" r="2.0"/>
<circle cx="914.38" cy="461.07" r="2.0"/>
<circle cx="914.38" cy="465.51" r="2.0"/>
<circle cx="910.49" cy="462.73" r="2.0"/>
<circle cx="912.16" cy="475.5" r="2.0"/>
<circle cx="914.38" cy="474.94" r="2.0"/>
<circle cx="914.38" cy="484.93" r="2.0"/>
<circle cx="931.03" cy="463.84" r="2.0"/>
<circle cx="938.24" cy="460.51" r="2.0"/>
<circle cx="928.81" cy="487.49" r="2.0"/>
<circle cx="947.12" cy="471.61" r="2.0"/>
<circle cx="888.85" cy="464.4" r="2.0"/>
<circle cx="892.18" cy="466.62" r="2.0"/>
<circle cx="894.4" cy="462.18" r="2.0"/>
<circle cx="899.95" cy="462.18" r="2.0"/>
<circle cx="902.17" cy="468.84" r="2.0"/>
<circle cx="905.5" cy="463.29" r="2.0"/>
<circle cx="907.72" cy="464.4" r="2.0"/>
<circle cx="889.96" cy="471.06" r="2.0"/>
<circle cx="894.4" cy="471.06" r="2.0"/>
<circle cx="903.28" cy="472.17" r="2.0"/>
<circle cx="887.74" cy="467.73" r="2.0"/>
<circle cx="914.38" cy="451.63" r="2.0"/>
<circle cx="914.38" cy="453.3" r="2.0"/>
<circle cx="914.38" cy="454.96" r="2.0"/>
<circle cx="914.38" cy="456.63" r="2.0"/>
<circle cx="914.38" cy="458.29" r="2.0"/>
<circle cx="914.38" cy="459.96" r="2.0"/>
<circle cx="914.38" cy="461.62" r="2.0"/>
<circle cx="914.38" cy="463.29" r="2.0"/>
<circle cx="914.38" cy="464.95" r="2.0"/>
<circle cx="914.38" cy="466.62" r="2.0"/>
</g>
<line x1="742.44" y1="492.39" x2="954.4" y2="458.55" stroke="#d79866" stroke-width="1.2"/>
<polyline points="742.44,487.39 747.74,486.72 753.04,486.05 758.34,485.38 763.64,484.71 768.94,484.03 774.24,483.36 779.54,482.68 784.83,482 790.13,481.31 795.43,480.62 800.73,479.93 806.03,479.23 811.33,478.53 816.63,477.82 821.93,477.1 827.23,476.38 832.53,475.64 837.82,474.89 843.12,474.13 848.42,473.36 853.72,472.57 859.02,471.76 864.32,470.93 869.62,470.09 874.92,469.23 880.22,468.36 885.51,467.48 890.81,466.59 896.11,465.69 901.41,464.78 906.71,463.87 912.01,462.94 917.31,462.01 922.61,461.07 927.91,460.13 933.2,459.18 938.5,458.23 943.8,457.28 949.1,456.32 954.4,455.35" fill="none" stroke="#222" stroke-width="1.35" stroke-dasharray="1.4 1.6"/>
<polyline points="742.44,497.39 747.74,496.36 753.04,495.34 758.34,494.32 763.64,493.3 768.94,492.28 774.24,491.27 779.54,490.25 784.83,489.24 790.13,488.24 795.43,487.23 800.73,486.23 806.03,485.24 811.33,484.25 816.63,483.27 821.93,482.3 827.23,481.33 832.53,480.37 837.82,479.43 843.12,478.5 848.42,477.58 853.72,476.68 859.02,475.8 864.32,474.93 869.62,474.09 874.92,473.25 880.22,472.43 885.51,471.62 890.81,470.82 896.11,470.02 901.41,469.24 906.71,468.47 912.01,467.7 917.31,466.94 922.61,466.18 927.91,465.43 933.2,464.69 938.5,463.95 943.8,463.21 949.1,462.48 954.4,461.75" fill="none" stroke="#222" stroke-width="1.35" stroke-dasharray="1.4 1.6"/>
<rect x="596.5" y="335.4" width="357.9" height="203" fill="none" stroke="#151515" stroke-width="2.65"/>
<line x1="587.9" y1="538.4" x2="596.5" y2="538.4" stroke="#151515" stroke-width="2.65"/>
<line x1="587.9" y1="470.73" x2="596.5" y2="470.73" stroke="#151515" stroke-width="2.65"/>
<line x1="587.9" y1="403.07" x2="596.5" y2="403.07" stroke="#151515" stroke-width="2.65"/>
<line x1="587.9" y1="335.4" x2="596.5" y2="335.4" stroke="#151515" stroke-width="2.65"/>
<line x1="596.5" y1="538.4" x2="596.5" y2="546.4" stroke="#151515" stroke-width="2.65"/>
<line x1="715.8" y1="538.4" x2="715.8" y2="546.4" stroke="#151515" stroke-width="2.65"/>
<line x1="835.1" y1="538.4" x2="835.1" y2="546.4" stroke="#151515" stroke-width="2.65"/>
<line x1="954.4" y1="538.4" x2="954.4" y2="546.4" stroke="#151515" stroke-width="2.65"/>
<text x="563.07" y="548.3" font-size="29" fill="#141414" textLength="14.83" lengthAdjust="spacingAndGlyphs">0</text>
<text x="563.07" y="480.63" font-size="29" fill="#141414" textLength="14.83" lengthAdjust="spacingAndGlyphs">4</text>
<text x="563.07" y="412.97" font-size="29" fill="#141414" textLength="14.83" lengthAdjust="spacingAndGlyphs">8</text>
<text x="548.23" y="345.3" font-size="29" fill="#141414" textLength="29.67" lengthAdjust="spacingAndGlyphs">12</text>
<text x="589.08" y="578.1" font-size="29" fill="#141414" textLength="14.83" lengthAdjust="spacingAndGlyphs">0</text>
<text x="708.38" y="578.1" font-size="29" fill="#141414" textLength="14.83" lengthAdjust="spacingAndGlyphs">3</text>
<text x="827.68" y="578.1" font-size="29" fill="#141414" textLength="14.83" lengthAdjust="spacingAndGlyphs">6</text>
<text x="946.98" y="578.1" font-size="29" fill="#141414" textLength="14.83" lengthAdjust="spacingAndGlyphs">9</text>
<text x="624.3" y="611.9" font-size="25.8" fill="#141414" textLength="149.26" lengthAdjust="spacingAndGlyphs">HBV RNA(log</text>
<text x="773.35" y="620.3" font-size="17" fill="#141414" style="font-family:'Liberation Serif',serif;stroke:none" textLength="15.55" lengthAdjust="spacingAndGlyphs">10</text>
<text x="794.08" y="611.9" font-size="25.8" fill="#141414" textLength="131.92" lengthAdjust="spacingAndGlyphs">copies/mL)</text>
<circle cx="968.35" cy="605.2" r="15.6" fill="none" stroke="#111" stroke-width="2.2"/>
<text x="968.35" y="613.8" font-size="30" text-anchor="middle" fill="#111">d</text>
<g transform="translate(530,547.35) rotate(-90)">
<text x="-1.7" y="0" font-size="25.8" fill="#141414" textLength="121.08" lengthAdjust="spacingAndGlyphs">HBsAg(log</text>
<text x="117.18" y="8.4" font-size="17" fill="#141414" style="font-family:'Liberation Serif',serif;stroke:none" textLength="15.45" lengthAdjust="spacingAndGlyphs">10</text>
<text x="140.16" y="0" font-size="25.8" fill="#141414" textLength="80.24" lengthAdjust="spacingAndGlyphs">IU/mL)</text>
</g>
<line x1="96.8" y1="786.5" x2="450.2" y2="786.5" stroke="#454545" stroke-width="1.25" stroke-dasharray="1.3 1.7"/>
<line x1="96.8" y1="719.4" x2="450.2" y2="719.4" stroke="#454545" stroke-width="1.25" stroke-dasharray="1.3 1.7"/>
<g fill="#5a9e5c" stroke="#559658" stroke-width="0.7">
<circle cx="134.76" cy="792.29" r="2.0"/>
<circle cx="134.76" cy="836.96" r="2.0"/>
<circle cx="174.43" cy="787.54" r="2.0"/>
<circle cx="174.43" cy="793.17" r="2.0"/>
<circle cx="174.43" cy="797.55" r="2.0"/>
<circle cx="174.43" cy="815.69" r="2.0"/>
<circle cx="174.43" cy="821.32" r="2.0"/>
<circle cx="174.43" cy="831.96" r="2.0"/>
<circle cx="174.43" cy="836.96" r="2.0"/>
<circle cx="183.56" cy="775.03" r="2.0"/>
<circle cx="196.58" cy="762.51" r="2.0"/>
<circle cx="196.08" cy="780.28" r="2.0"/>
<circle cx="185.32" cy="789.41" r="2.0"/>
<circle cx="183.81" cy="796.92" r="2.0"/>
<circle cx="196.08" cy="793.17" r="2.0"/>
<circle cx="192.57" cy="797.8" r="2.0"/>
<circle cx="178.18" cy="802.3" r="2.0"/>
<circle cx="205.34" cy="796.92" r="2.0"/>
<circle cx="198.58" cy="806.06" r="2.0"/>
<circle cx="183.81" cy="810.69" r="2.0"/>
<circle cx="203.58" cy="809.43" r="2.0"/>
<circle cx="204.08" cy="811.94" r="2.0"/>
<circle cx="193.57" cy="822.57" r="2.0"/>
<circle cx="180.69" cy="829.08" r="2.0"/>
<circle cx="186.94" cy="831.96" r="2.0"/>
<circle cx="204.08" cy="831.96" r="2.0"/>
<circle cx="207.59" cy="829.46" r="2.0"/>
<circle cx="208.21" cy="831.96" r="2.0"/>
<circle cx="211.97" cy="824.83" r="2.0"/>
<circle cx="208.59" cy="766.64" r="2.0"/>
<circle cx="220.1" cy="769.02" r="2.0"/>
<circle cx="214.09" cy="775.28" r="2.0"/>
<circle cx="215.72" cy="776.9" r="2.0"/>
<circle cx="222.85" cy="774.4" r="2.0"/>
<circle cx="215.35" cy="781.03" r="2.0"/>
<circle cx="209.84" cy="783.16" r="2.0"/>
<circle cx="228.61" cy="755.26" r="2.0"/>
<circle cx="233.61" cy="761.26" r="2.0"/>
<circle cx="237.62" cy="763.51" r="2.0"/>
<circle cx="237.62" cy="770.02" r="2.0"/>
<circle cx="237.87" cy="771.9" r="2.0"/>
<circle cx="243.87" cy="772.27" r="2.0"/>
<circle cx="229.86" cy="781.91" r="2.0"/>
<circle cx="217.85" cy="797.8" r="2.0"/>
<circle cx="233.61" cy="800.05" r="2.0"/>
<circle cx="214.85" cy="804.81" r="2.0"/>
<circle cx="217.6" cy="803.8" r="2.0"/>
<circle cx="221.98" cy="803.8" r="2.0"/>
<circle cx="221.98" cy="806.93" r="2.0"/>
<circle cx="214.09" cy="812.56" r="2.0"/>
<circle cx="217.85" cy="811.56" r="2.0"/>
<circle cx="219.48" cy="813.56" r="2.0"/>
<circle cx="241.37" cy="804.05" r="2.0"/>
<circle cx="134.76" cy="801.3" r="2.0"/>
<circle cx="134.76" cy="803.18" r="2.0"/>
<circle cx="134.76" cy="805.06" r="2.0"/>
<circle cx="134.76" cy="809.43" r="2.0"/>
<circle cx="134.76" cy="810.98" r="2.0"/>
<circle cx="134.76" cy="812.52" r="2.0"/>
<circle cx="134.76" cy="814.06" r="2.0"/>
<circle cx="134.76" cy="815.61" r="2.0"/>
<circle cx="134.76" cy="817.15" r="2.0"/>
<circle cx="134.76" cy="818.69" r="2.0"/>
<circle cx="134.76" cy="820.24" r="2.0"/>
<circle cx="134.76" cy="821.78" r="2.0"/>
<circle cx="134.76" cy="823.32" r="2.0"/>
<circle cx="134.76" cy="824.87" r="2.0"/>
<circle cx="134.76" cy="826.41" r="2.0"/>
<circle cx="134.76" cy="827.95" r="2.0"/>
<circle cx="134.76" cy="829.5" r="2.0"/>
<circle cx="134.76" cy="831.04" r="2.0"/>
<circle cx="134.76" cy="832.58" r="2.0"/>
<circle cx="174.43" cy="801.3" r="2.0"/>
<circle cx="174.43" cy="802.82" r="2.0"/>
<circle cx="174.43" cy="804.34" r="2.0"/>
<circle cx="174.43" cy="805.86" r="2.0"/>
<circle cx="174.43" cy="807.38" r="2.0"/>
<circle cx="174.43" cy="808.9" r="2.0"/>
<circle cx="174.43" cy="810.42" r="2.0"/>
<circle cx="174.43" cy="811.94" r="2.0"/>
<circle cx="264.77" cy="726.54" r="2.0"/>
<circle cx="254.39" cy="749.81" r="2.0"/>
<circle cx="259.77" cy="750.94" r="2.0"/>
<circle cx="253.76" cy="755.07" r="2.0"/>
<circle cx="253.14" cy="757.32" r="2.0"/>
<circle cx="256.89" cy="762.32" r="2.0"/>
<circle cx="266.9" cy="748.56" r="2.0"/>
<circle cx="269.4" cy="747.31" r="2.0"/>
<circle cx="271.91" cy="745.06" r="2.0"/>
<circle cx="277.54" cy="747.56" r="2.0"/>
<circle cx="271.91" cy="756.32" r="2.0"/>
<circle cx="267.53" cy="762.32" r="2.0"/>
<circle cx="272.53" cy="764.07" r="2.0"/>
<circle cx="245.63" cy="771.96" r="2.0"/>
<circle cx="277.29" cy="779.84" r="2.0"/>
<circle cx="255.64" cy="788.85" r="2.0"/>
<circle cx="287.8" cy="769.46" r="2.0"/>
<circle cx="291.3" cy="751.31" r="2.0"/>
<circle cx="295.68" cy="749.43" r="2.0"/>
<circle cx="298.18" cy="743.55" r="2.0"/>
<circle cx="303.19" cy="738.8" r="2.0"/>
<circle cx="298.18" cy="754.82" r="2.0"/>
<circle cx="301.31" cy="758.57" r="2.0"/>
<circle cx="305.69" cy="759.45" r="2.0"/>
<circle cx="315.08" cy="746.93" r="2.0"/>
<circle cx="316.58" cy="747.56" r="2.0"/>
<circle cx="321.08" cy="730.04" r="2.0"/>
<circle cx="324.84" cy="740.68" r="2.0"/>
<circle cx="323.21" cy="755.32" r="2.0"/>
<circle cx="335.72" cy="730.29" r="2.0"/>
<circle cx="336.35" cy="735.05" r="2.0"/>
<circle cx="341.1" cy="728.79" r="2.0"/>
<circle cx="344.48" cy="731.04" r="2.0"/>
<circle cx="351.61" cy="730.67" r="2.0"/>
<circle cx="353.86" cy="734.42" r="2.0"/>
<circle cx="335.72" cy="745.31" r="2.0"/>
<circle cx="361.37" cy="718.53" r="2.0"/>
<circle cx="361.37" cy="741.05" r="2.0"/>
<circle cx="362" cy="759.45" r="2.0"/>
<circle cx="253.76" cy="794.76" r="2.0"/>
<circle cx="272.28" cy="798.14" r="2.0"/>
<circle cx="389.72" cy="730.87" r="2.0"/>
<circle cx="399.49" cy="724.5" r="2.0"/>
<circle cx="388.13" cy="759.53" r="2.0"/>
</g>
<line x1="136.86" y1="820.39" x2="399.65" y2="715.88" stroke="#568f5a" stroke-width="1.2"/>
<polyline points="136.86,816.59 143.43,814.11 150,811.64 156.57,809.16 163.14,806.68 169.71,804.19 176.28,801.7 182.85,799.2 189.42,796.7 195.99,794.19 202.56,791.67 209.13,789.15 215.7,786.61 222.27,784.07 228.84,781.51 235.41,778.94 241.98,776.36 248.55,773.77 255.12,771.16 261.68,768.51 268.25,765.83 274.82,763.12 281.39,760.37 287.96,757.59 294.53,754.8 301.1,751.98 307.67,749.15 314.24,746.31 320.81,743.46 327.38,740.6 333.95,737.74 340.52,734.87 347.09,731.99 353.66,729.11 360.23,726.23 366.8,723.34 373.37,720.45 379.94,717.56 386.51,714.67 393.08,711.77 399.65,708.88" fill="none" stroke="#222" stroke-width="1.35" stroke-dasharray="1.4 1.6"/>
<polyline points="136.86,824.19 143.43,821.43 150,818.68 156.57,815.93 163.14,813.19 169.71,810.45 176.28,807.72 182.85,804.99 189.42,802.27 195.99,799.55 202.56,796.84 209.13,794.14 215.7,791.45 222.27,788.77 228.84,786.1 235.41,783.45 241.98,780.8 248.55,778.17 255.12,775.56 261.68,772.97 268.25,770.43 274.82,767.92 281.39,765.44 287.96,762.99 294.53,760.56 301.1,758.15 307.67,755.76 314.24,753.37 320.81,751 327.38,748.63 333.95,746.27 340.52,743.92 347.09,741.57 353.66,739.22 360.23,736.88 366.8,734.54 373.37,732.2 379.94,729.87 386.51,727.54 393.08,725.21 399.65,722.88" fill="none" stroke="#222" stroke-width="1.35" stroke-dasharray="1.4 1.6"/>
<rect x="95.3" y="652.3" width="356.2" height="201.3" fill="none" stroke="#151515" stroke-width="2.65"/>
<line x1="86.7" y1="853.6" x2="95.3" y2="853.6" stroke="#151515" stroke-width="2.65"/>
<line x1="86.7" y1="786.5" x2="95.3" y2="786.5" stroke="#151515" stroke-width="2.65"/>
<line x1="86.7" y1="719.4" x2="95.3" y2="719.4" stroke="#151515" stroke-width="2.65"/>
<line x1="86.7" y1="652.3" x2="95.3" y2="652.3" stroke="#151515" stroke-width="2.65"/>
<line x1="95.3" y1="853.6" x2="95.3" y2="861.6" stroke="#151515" stroke-width="2.65"/>
<line x1="214.03" y1="853.6" x2="214.03" y2="861.6" stroke="#151515" stroke-width="2.65"/>
<line x1="332.77" y1="853.6" x2="332.77" y2="861.6" stroke="#151515" stroke-width="2.65"/>
<line x1="451.5" y1="853.6" x2="451.5" y2="861.6" stroke="#151515" stroke-width="2.65"/>
<text x="61.87" y="863.5" font-size="29" fill="#141414" textLength="14.83" lengthAdjust="spacingAndGlyphs">0</text>
<text x="61.87" y="796.4" font-size="29" fill="#141414" textLength="14.83" lengthAdjust="spacingAndGlyphs">4</text>
<text x="61.87" y="729.3" font-size="29" fill="#141414" textLength="14.83" lengthAdjust="spacingAndGlyphs">8</text>
<text x="47.03" y="662.2" font-size="29" fill="#141414" textLength="29.67" lengthAdjust="spacingAndGlyphs">12</text>
<text x="87.88" y="893.3" font-size="29" fill="#141414" textLength="14.83" lengthAdjust="spacingAndGlyphs">0</text>
<text x="206.62" y="893.3" font-size="29" fill="#141414" textLength="14.83" lengthAdjust="spacingAndGlyphs">3</text>
<text x="325.35" y="893.3" font-size="29" fill="#141414" textLength="14.83" lengthAdjust="spacingAndGlyphs">6</text>
<text x="444.08" y="893.3" font-size="29" fill="#141414" textLength="14.83" lengthAdjust="spacingAndGlyphs">9</text>
<text x="122.5" y="928.4" font-size="25.8" fill="#141414" textLength="149.01" lengthAdjust="spacingAndGlyphs">HBV RNA(log</text>
<text x="271.3" y="936.8" font-size="17" fill="#141414" style="font-family:'Liberation Serif',serif;stroke:none" textLength="15.52" lengthAdjust="spacingAndGlyphs">10</text>
<text x="291.99" y="928.4" font-size="25.8" fill="#141414" textLength="131.71" lengthAdjust="spacingAndGlyphs">copies/mL)</text>
<circle cx="457.7" cy="919.3" r="15.6" fill="none" stroke="#111" stroke-width="2.2"/>
<text x="457.7" y="927.9" font-size="30" text-anchor="middle" fill="#111">e</text>
<g transform="translate(28.9,877.45) rotate(-90)">
<text x="-1.7" y="0" font-size="25.8" fill="#141414" textLength="149.13" lengthAdjust="spacingAndGlyphs">HBV DNA(log</text>
<text x="146.52" y="8.4" font-size="17" fill="#141414" style="font-family:'Liberation Serif',serif;stroke:none" textLength="15.72" lengthAdjust="spacingAndGlyphs">10</text>
<text x="168.6" y="0" font-size="25.8" fill="#141414" textLength="80" lengthAdjust="spacingAndGlyphs">IU/mL)</text>
</g>
<line x1="598.5" y1="785.63" x2="953.1" y2="785.63" stroke="#454545" stroke-width="1.25" stroke-dasharray="1.3 1.7"/>
<line x1="598.5" y1="718.27" x2="953.1" y2="718.27" stroke="#454545" stroke-width="1.25" stroke-dasharray="1.3 1.7"/>
<g fill="#a8aa64" stroke="#9fa160" stroke-width="0.7">
<circle cx="680.69" cy="828.57" r="2.0"/>
<circle cx="683.19" cy="784.4" r="2.0"/>
<circle cx="687.57" cy="783.15" r="2.0"/>
<circle cx="686.07" cy="786.9" r="2.0"/>
<circle cx="698.58" cy="779.39" r="2.0"/>
<circle cx="700.71" cy="787.53" r="2.0"/>
<circle cx="705.71" cy="790.03" r="2.0"/>
<circle cx="707.59" cy="789.78" r="2.0"/>
<circle cx="710.09" cy="788.15" r="2.0"/>
<circle cx="710.72" cy="790.03" r="2.0"/>
<circle cx="718.22" cy="783.15" r="2.0"/>
<circle cx="717.6" cy="787.53" r="2.0"/>
<circle cx="720.1" cy="786.9" r="2.0"/>
<circle cx="724.48" cy="783.15" r="2.0"/>
<circle cx="724.48" cy="789.4" r="2.0"/>
<circle cx="725.73" cy="793.16" r="2.0"/>
<circle cx="716.35" cy="794.41" r="2.0"/>
<circle cx="720.73" cy="792.53" r="2.0"/>
<circle cx="716.97" cy="796.91" r="2.0"/>
<circle cx="723.23" cy="797.54" r="2.0"/>
<circle cx="720.73" cy="802.54" r="2.0"/>
<circle cx="722.6" cy="806.55" r="2.0"/>
<circle cx="710.09" cy="795.66" r="2.0"/>
<circle cx="706.34" cy="799.41" r="2.0"/>
<circle cx="698.58" cy="795.66" r="2.0"/>
<circle cx="698.83" cy="797.54" r="2.0"/>
<circle cx="695.08" cy="800.67" r="2.0"/>
<circle cx="694.83" cy="805.67" r="2.0"/>
<circle cx="688.82" cy="800.67" r="2.0"/>
<circle cx="686.07" cy="796.91" r="2.0"/>
<circle cx="715.1" cy="800.67" r="2.0"/>
<circle cx="711.97" cy="810.3" r="2.0"/>
<circle cx="730.74" cy="795.04" r="2.0"/>
<circle cx="736.37" cy="796.91" r="2.0"/>
<circle cx="740.37" cy="796.91" r="2.0"/>
<circle cx="740.12" cy="786.03" r="2.0"/>
<circle cx="743.25" cy="809.42" r="2.0"/>
<circle cx="732.61" cy="822.19" r="2.0"/>
<circle cx="736.12" cy="834.7" r="2.0"/>
<circle cx="676.56" cy="817.56" r="2.0"/>
<circle cx="676.56" cy="821.31" r="2.0"/>
<circle cx="676.56" cy="832.57" r="2.0"/>
<circle cx="676.56" cy="836.33" r="2.0"/>
<circle cx="636.89" cy="780.02" r="2.0"/>
<circle cx="636.89" cy="781.54" r="2.0"/>
<circle cx="636.89" cy="783.06" r="2.0"/>
<circle cx="636.89" cy="784.58" r="2.0"/>
<circle cx="636.89" cy="786.1" r="2.0"/>
<circle cx="636.89" cy="787.62" r="2.0"/>
<circle cx="636.89" cy="789.14" r="2.0"/>
<circle cx="636.89" cy="790.66" r="2.0"/>
<circle cx="636.89" cy="792.18" r="2.0"/>
<circle cx="636.89" cy="793.69" r="2.0"/>
<circle cx="636.89" cy="795.21" r="2.0"/>
<circle cx="636.89" cy="796.73" r="2.0"/>
<circle cx="636.89" cy="798.25" r="2.0"/>
<circle cx="636.89" cy="799.77" r="2.0"/>
<circle cx="636.89" cy="801.29" r="2.0"/>
<circle cx="636.89" cy="802.81" r="2.0"/>
<circle cx="636.89" cy="804.33" r="2.0"/>
<circle cx="636.89" cy="805.85" r="2.0"/>
<circle cx="636.89" cy="807.37" r="2.0"/>
<circle cx="636.89" cy="808.89" r="2.0"/>
<circle cx="636.89" cy="810.41" r="2.0"/>
<circle cx="636.89" cy="811.93" r="2.0"/>
<circle cx="636.89" cy="813.45" r="2.0"/>
<circle cx="636.89" cy="814.97" r="2.0"/>
<circle cx="636.89" cy="816.49" r="2.0"/>
<circle cx="636.89" cy="818" r="2.0"/>
<circle cx="636.89" cy="819.52" r="2.0"/>
<circle cx="636.89" cy="821.04" r="2.0"/>
<circle cx="636.89" cy="822.56" r="2.0"/>
<circle cx="636.89" cy="828.82" r="2.0"/>
<circle cx="636.89" cy="830.32" r="2.0"/>
<circle cx="636.89" cy="831.82" r="2.0"/>
<circle cx="636.89" cy="833.32" r="2.0"/>
<circle cx="636.89" cy="834.83" r="2.0"/>
<circle cx="636.89" cy="836.33" r="2.0"/>
<circle cx="676.56" cy="780.02" r="2.0"/>
<circle cx="676.56" cy="781.56" r="2.0"/>
<circle cx="676.56" cy="783.11" r="2.0"/>
<circle cx="676.56" cy="784.65" r="2.0"/>
<circle cx="676.56" cy="786.19" r="2.0"/>
<circle cx="676.56" cy="787.74" r="2.0"/>
<circle cx="676.56" cy="789.28" r="2.0"/>
<circle cx="676.56" cy="790.82" r="2.0"/>
<circle cx="676.56" cy="792.37" r="2.0"/>
<circle cx="676.56" cy="793.91" r="2.0"/>
<circle cx="676.56" cy="795.45" r="2.0"/>
<circle cx="676.56" cy="797" r="2.0"/>
<circle cx="676.56" cy="798.54" r="2.0"/>
<circle cx="676.56" cy="800.08" r="2.0"/>
<circle cx="676.56" cy="801.63" r="2.0"/>
<circle cx="676.56" cy="803.17" r="2.0"/>
<circle cx="747.76" cy="793.53" r="2.0"/>
<circle cx="755.64" cy="785.65" r="2.0"/>
<circle cx="758.52" cy="784.77" r="2.0"/>
<circle cx="756.27" cy="791.91" r="2.0"/>
<circle cx="759.39" cy="791.91" r="2.0"/>
<circle cx="756.27" cy="796.29" r="2.0"/>
<circle cx="762.27" cy="803.54" r="2.0"/>
<circle cx="766.9" cy="789.78" r="2.0"/>
<circle cx="770.03" cy="789.78" r="2.0"/>
<circle cx="770.03" cy="795.04" r="2.0"/>
<circle cx="774.79" cy="781.52" r="2.0"/>
<circle cx="774.79" cy="791.91" r="2.0"/>
<circle cx="775.04" cy="797.54" r="2.0"/>
<circle cx="774.79" cy="805.3" r="2.0"/>
<circle cx="780.04" cy="798.54" r="2.0"/>
<circle cx="779.79" cy="809.42" r="2.0"/>
<circle cx="772.28" cy="811.55" r="2.0"/>
<circle cx="790.68" cy="803.17" r="2.0"/>
<circle cx="793.8" cy="796.91" r="2.0"/>
<circle cx="798.18" cy="811.55" r="2.0"/>
<circle cx="800.69" cy="795.66" r="2.0"/>
<circle cx="801.06" cy="798.16" r="2.0"/>
<circle cx="805.69" cy="792.78" r="2.0"/>
<circle cx="805.69" cy="808.17" r="2.0"/>
<circle cx="808.82" cy="809.42" r="2.0"/>
<circle cx="803.81" cy="816.56" r="2.0"/>
<circle cx="817.33" cy="814.81" r="2.0"/>
<circle cx="819.08" cy="798.16" r="2.0"/>
<circle cx="823.83" cy="801.29" r="2.0"/>
<circle cx="825.71" cy="789.4" r="2.0"/>
<circle cx="827.59" cy="792.53" r="2.0"/>
<circle cx="838.85" cy="783.77" r="2.0"/>
<circle cx="839.48" cy="789.4" r="2.0"/>
<circle cx="838.85" cy="792.78" r="2.0"/>
<circle cx="843.85" cy="790.03" r="2.0"/>
<circle cx="847.61" cy="800.04" r="2.0"/>
<circle cx="854.87" cy="800.04" r="2.0"/>
<circle cx="856.62" cy="793.16" r="2.0"/>
<circle cx="863.25" cy="783.77" r="2.0"/>
<circle cx="863.25" cy="796.91" r="2.0"/>
<circle cx="892.7" cy="788.3" r="2.0"/>
<circle cx="902.68" cy="793.08" r="2.0"/>
<circle cx="891" cy="801.78" r="2.0"/>
<circle cx="864.25" cy="785.65" r="2.0"/>
</g>
<line x1="638.7" y1="805" x2="902.38" y2="788.33" stroke="#989a61" stroke-width="1.2"/>
<polyline points="638.7,801.9 645.29,801.62 651.88,801.33 658.47,801.04 665.06,800.75 671.66,800.46 678.25,800.16 684.84,799.86 691.43,799.55 698.03,799.24 704.62,798.92 711.21,798.59 717.8,798.26 724.39,797.91 730.99,797.56 737.58,797.19 744.17,796.81 750.76,796.41 757.35,796 763.95,795.54 770.54,795.04 777.13,794.5 783.72,793.92 790.31,793.32 796.91,792.7 803.5,792.06 810.09,791.42 816.68,790.76 823.27,790.1 829.87,789.43 836.46,788.76 843.05,788.08 849.64,787.41 856.23,786.73 862.83,786.05 869.42,785.36 876.01,784.68 882.6,783.99 889.19,783.3 895.79,782.62 902.38,781.93" fill="none" stroke="#222" stroke-width="1.35" stroke-dasharray="1.4 1.6"/>
<polyline points="638.7,808.1 645.29,807.55 651.88,807 658.47,806.46 665.06,805.92 671.66,805.38 678.25,804.84 684.84,804.31 691.43,803.78 698.03,803.26 704.62,802.75 711.21,802.24 717.8,801.74 724.39,801.25 730.99,800.77 737.58,800.31 744.17,799.86 750.76,799.42 757.35,799 763.95,798.62 770.54,798.29 777.13,798 783.72,797.74 790.31,797.51 796.91,797.3 803.5,797.1 810.09,796.91 816.68,796.73 823.27,796.56 829.87,796.4 836.46,796.23 843.05,796.07 849.64,795.92 856.23,795.76 862.83,795.61 869.42,795.46 876.01,795.31 882.6,795.17 889.19,795.02 895.79,794.87 902.38,794.73" fill="none" stroke="#222" stroke-width="1.35" stroke-dasharray="1.4 1.6"/>
<rect x="597" y="650.9" width="357.4" height="202.1" fill="none" stroke="#151515" stroke-width="2.65"/>
<line x1="588.4" y1="853" x2="597" y2="853" stroke="#151515" stroke-width="2.65"/>
<line x1="588.4" y1="785.63" x2="597" y2="785.63" stroke="#151515" stroke-width="2.65"/>
<line x1="588.4" y1="718.27" x2="597" y2="718.27" stroke="#151515" stroke-width="2.65"/>
<line x1="588.4" y1="650.9" x2="597" y2="650.9" stroke="#151515" stroke-width="2.65"/>
<line x1="597" y1="853" x2="597" y2="861" stroke="#151515" stroke-width="2.65"/>
<line x1="716.13" y1="853" x2="716.13" y2="861" stroke="#151515" stroke-width="2.65"/>
<line x1="835.27" y1="853" x2="835.27" y2="861" stroke="#151515" stroke-width="2.65"/>
<line x1="954.4" y1="853" x2="954.4" y2="861" stroke="#151515" stroke-width="2.65"/>
<text x="563.57" y="862.9" font-size="29" fill="#141414" textLength="14.83" lengthAdjust="spacingAndGlyphs">0</text>
<text x="563.57" y="795.53" font-size="29" fill="#141414" textLength="14.83" lengthAdjust="spacingAndGlyphs">4</text>
<text x="563.57" y="728.17" font-size="29" fill="#141414" textLength="14.83" lengthAdjust="spacingAndGlyphs">8</text>
<text x="548.73" y="660.8" font-size="29" fill="#141414" textLength="29.67" lengthAdjust="spacingAndGlyphs">12</text>
<text x="589.58" y="892.7" font-size="29" fill="#141414" textLength="14.83" lengthAdjust="spacingAndGlyphs">0</text>
<text x="708.72" y="892.7" font-size="29" fill="#141414" textLength="14.83" lengthAdjust="spacingAndGlyphs">3</text>
<text x="827.85" y="892.7" font-size="29" fill="#141414" textLength="14.83" lengthAdjust="spacingAndGlyphs">6</text>
<text x="946.98" y="892.7" font-size="29" fill="#141414" textLength="14.83" lengthAdjust="spacingAndGlyphs">9</text>
<text x="624.3" y="927.2" font-size="25.8" fill="#141414" textLength="149.46" lengthAdjust="spacingAndGlyphs">HBV RNA(log</text>
<text x="773.55" y="935.6" font-size="17" fill="#141414" style="font-family:'Liberation Serif',serif;stroke:none" textLength="15.57" lengthAdjust="spacingAndGlyphs">10</text>
<text x="794.3" y="927.2" font-size="25.8" fill="#141414" textLength="132.1" lengthAdjust="spacingAndGlyphs">copies/mL)</text>
<circle cx="968.6" cy="919" r="15.6" fill="none" stroke="#111" stroke-width="2.2"/>
<text x="969.1" y="930" font-size="30" text-anchor="middle" fill="#111">f</text>
<g transform="translate(532,861.9) rotate(-90)">
<text x="-1.7" y="0" font-size="25.8" fill="#141414" textLength="120.86" lengthAdjust="spacingAndGlyphs">HBsAg(log</text>
<text x="116.96" y="8.4" font-size="17" fill="#141414" style="font-family:'Liberation Serif',serif;stroke:none" textLength="15.42" lengthAdjust="spacingAndGlyphs">10</text>
<text x="139.9" y="0" font-size="25.8" fill="#141414" textLength="80.1" lengthAdjust="spacingAndGlyphs">IU/mL)</text>
</g>
</svg></body></html>
